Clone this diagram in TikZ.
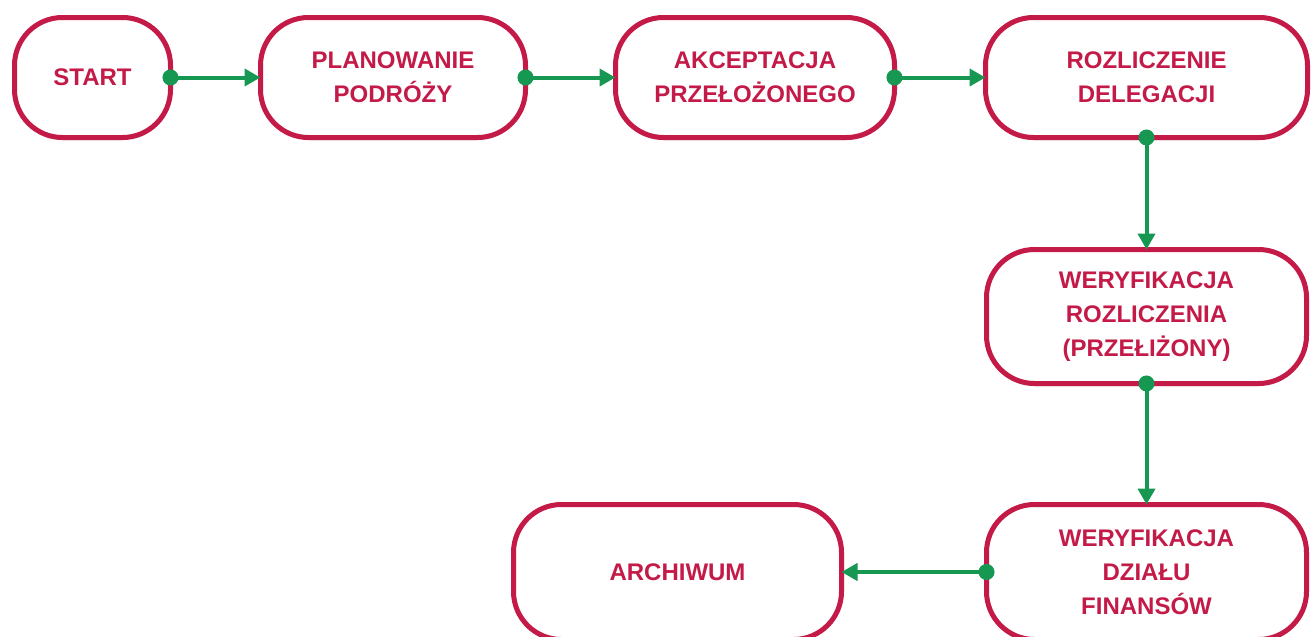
\documentclass[tikz,border=0pt]{standalone}
\usepackage{fontspec}
\setmainfont{Liberation Sans}
\usepackage{tikz}
\usetikzlibrary{arrows.meta, positioning, shadows}
\definecolor{crimsonred}{RGB}{196, 26, 72}
\definecolor{flowgreen}{RGB}{22, 152, 82}

\begin{document}
\begin{tikzpicture}[
    x=1pt, y=1pt,
    node distance=90pt,
    box/.style={rectangle, draw=crimsonred, line width=5pt, outer sep=0pt, fill=white, rounded corners=48pt, text=crimsonred, align=center, minimum height=120pt, font=\bfseries\fontsize{24}{34}\selectfont, drop shadow={opacity=0.12, shadow xshift=0pt, shadow yshift=-3pt}},
    arrow/.style={{Circle[length=16pt]}-{Triangle[length=16pt, width=17pt]}, shorten <=-8pt, line width=4pt, draw=flowgreen}
]
\useasboundingbox (0,0) rectangle (1312,-637);

% Top row
\node[box, minimum width=156pt] (start) at (92.5,-77.5) {START};
\node[box, minimum width=265pt, right=90pt of start] (planning) {PLANOWANIE\\PODRÓŻY};
\node[box, minimum width=279pt, right=90pt of planning] (approval) {AKCEPTACJA\\PRZEŁOŻONEGO};
\node[box, minimum width=322pt, right=91pt of approval] (settlement) {ROZLICZENIE\\DELEGACJI};

% Right column
\node[box, minimum width=320pt, minimum height=134pt, below=112pt of settlement] (checkboss) {WERYFIKACJA\\ROZLICZENIA\\(PRZEŁIŻONY)};
\node[box, minimum width=320pt, minimum height=135pt, below=121pt of checkboss] (checkfin) {WERYFIKACJA\\DZIAŁU\\FINANSÓW};

% Archive
\node[box, minimum width=328pt, minimum height=135pt, left=145pt of checkfin] (archive) {ARCHIWUM};

% Arrows
\draw[arrow] (start) -- (planning);
\draw[arrow] (planning) -- (approval);
\draw[arrow] (approval) -- (settlement);
\draw[arrow] (settlement) -- (checkboss);
\draw[arrow] (checkboss) -- (checkfin);
\draw[arrow] (checkfin) -- (archive);

\end{tikzpicture}
\end{document}
